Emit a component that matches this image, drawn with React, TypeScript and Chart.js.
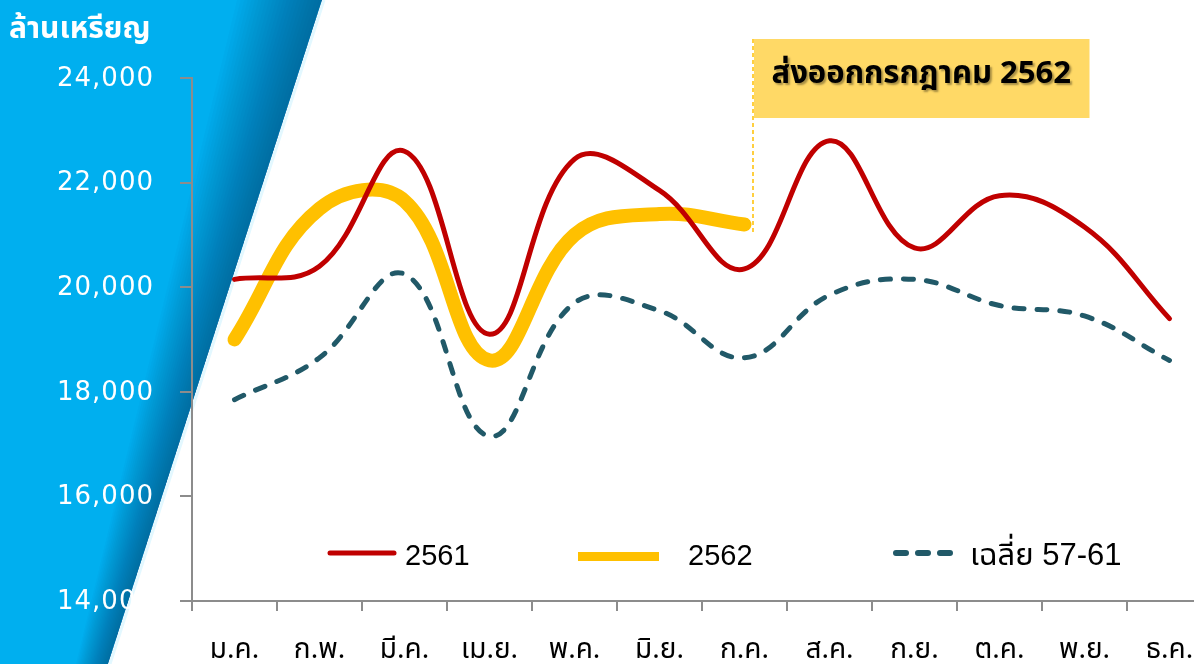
import React, { useEffect, useRef } from "react";
import { Chart, registerables } from "chart.js";

Chart.register(...registerables);

const months = ["ม.ค.", "ก.พ.", "มี.ค.", "เม.ย.", "พ.ค.", "มิ.ย.", "ก.ค.", "ส.ค.", "ก.ย.", "ต.ค.", "พ.ย.", "ธ.ค."];
const exports2561 = [20150, 20400, 22600, 19100, 22450, 21850, 20350, 22800, 20750, 21750, 21150, 19400];
const exports2562 = [19000, 21500, 21650, 18600, 21000, 21400, 21200];
const avg5761 = [17850, 18650, 20250, 17150, 19700, 19550, 18650, 19850, 20150, 19650, 19450, 18600];
const yTickValues = [14000, 16000, 18000, 20000, 22000, 24000];
const seriesNames = ["2561", "2562", "เฉลี่ย 57-61"];
const unitLabel = "ล้านเหรียญ";
const noteLabel = "ส่งออกกรกฎาคม 2562";

const RED = "#C00000";
const YELLOW = "#FFC000";
const TEAL = "#215968";
const AXIS = "#8C8C8C";
const THAI_FONT = 'Tahoma, "Noto Sans Thai", "Noto Sans", "DejaVu Sans", sans-serif';

const decorPlugin = {
  id: "decor",
  beforeDraw(chart: any) {
    const ctx = chart.ctx as CanvasRenderingContext2D;
    const W = chart.width;
    const H = chart.height;
    ctx.save();
    ctx.fillStyle = "#ffffff";
    ctx.fillRect(0, 0, W, H);
    // blue diagonal panel
    const ax = 322, bx = 108;
    ctx.beginPath();
    ctx.moveTo(0, 0);
    ctx.lineTo(ax, 0);
    ctx.lineTo(bx, H);
    ctx.lineTo(0, H);
    ctx.closePath();
    ctx.fillStyle = "#00AFEF";
    ctx.fill();
    // shadow band near the edge (wider at top, narrower at bottom)
    const N = 24;
    for (let i = 1; i <= N; i++) {
      const f = i / N;
      ctx.beginPath();
      ctx.moveTo(ax, 0);
      ctx.lineTo(ax - 85 * f, 0);
      ctx.lineTo(bx - 32 * f, H);
      ctx.lineTo(bx, H);
      ctx.closePath();
      ctx.fillStyle = "rgba(0,45,85,0.022)";
      ctx.fill();
    }
    // light fringe
    ctx.beginPath();
    ctx.moveTo(ax + 2, 0);
    ctx.lineTo(bx + 2, H);
    ctx.strokeStyle = "rgba(215,245,255,0.7)";
    ctx.lineWidth = 3;
    ctx.stroke();

    // unit title
    ctx.fillStyle = "#ffffff";
    ctx.font = `bold 30px ${THAI_FONT}`;
    ctx.textAlign = "left";
    ctx.textBaseline = "alphabetic";
    ctx.fillText(unitLabel, 9, 38);

    // y tick labels
    const y = chart.scales.y;
    ctx.font = '26px "DejaVu Sans", sans-serif';
    (ctx as any).letterSpacing = "1px";
    ctx.textAlign = "right";
    ctx.textBaseline = "middle";
    yTickValues.forEach((v) => {
      const label = v.toLocaleString("en-US");
      ctx.fillText(label, 154, y.getPixelForValue(v) + 1);
    });
    (ctx as any).letterSpacing = "0px";
    ctx.restore();
  },
  afterDraw(chart: any) {
    const ctx = chart.ctx as CanvasRenderingContext2D;
    const x = chart.scales.x;
    ctx.save();
    // annotation
    const lineX = x.getPixelForValue(6) + 8.5;
    const top = 39;
    const boxRight = x.getPixelForValue(10) + 5;
    ctx.fillStyle = "#FFD966";
    ctx.fillRect(lineX + 1, top, boxRight - lineX - 1, 79);
    ctx.strokeStyle = YELLOW;
    ctx.lineWidth = 1.5;
    ctx.setLineDash([4, 3]);
    ctx.beginPath();
    ctx.moveTo(lineX, top);
    ctx.lineTo(lineX, 235);
    ctx.stroke();
    ctx.setLineDash([]);
    ctx.font = `bold 31px ${THAI_FONT}`;
    ctx.textAlign = "center";
    ctx.textBaseline = "middle";
    ctx.shadowColor = "rgba(0,0,0,0.35)";
    ctx.shadowOffsetX = 2;
    ctx.shadowOffsetY = 2;
    ctx.shadowBlur = 2;
    ctx.fillStyle = "#000000";
    ctx.fillText(noteLabel, (lineX + boxRight) / 2, 77);
    ctx.shadowColor = "transparent";

    // legend
    const ly = 553;
    ctx.lineCap = "round";
    ctx.strokeStyle = RED;
    ctx.lineWidth = 5;
    ctx.beginPath();
    ctx.moveTo(330, ly);
    ctx.lineTo(394, ly);
    ctx.stroke();

    ctx.fillStyle = YELLOW;
    ctx.fillRect(578, ly - 1, 81, 9);

    ctx.strokeStyle = TEAL;
    ctx.lineWidth = 6;
    ctx.setLineDash([10, 12]);
    ctx.beginPath();
    ctx.moveTo(896, ly);
    ctx.lineTo(960, ly);
    ctx.stroke();
    ctx.setLineDash([]);

    ctx.fillStyle = "#000000";
    ctx.textAlign = "left";
    ctx.textBaseline = "alphabetic";
    ctx.font = '29px "Liberation Sans", Arial, sans-serif';
    ctx.fillText(seriesNames[0], 405, 565);
    ctx.fillText(seriesNames[1], 688, 565);
    ctx.font = `31px "Liberation Sans", ${THAI_FONT}`;
    ctx.fillText(seriesNames[2], 970, 565);
    ctx.restore();
  },
};

export default function App() {
  const ref = useRef<HTMLCanvasElement | null>(null);
  useEffect(() => {
    if (!ref.current) return;
    const chart = new Chart(ref.current, {
      type: "line",
      data: {
        labels: months,
        datasets: [
          {
            label: seriesNames[0],
            data: exports2561,
            borderColor: RED,
            borderWidth: 5,
            tension: 0.4,
            pointRadius: 0,
            borderCapStyle: "round",
            borderJoinStyle: "round",
            fill: false,
          },
          {
            label: seriesNames[1],
            data: exports2562,
            borderColor: YELLOW,
            borderWidth: 14,
            tension: 0.4,
            pointRadius: 0,
            borderCapStyle: "round",
            borderJoinStyle: "round",
            fill: false,
          },
          {
            label: seriesNames[2],
            data: avg5761,
            borderColor: TEAL,
            borderWidth: 5,
            borderDash: [10, 13],
            tension: 0.4,
            pointRadius: 0,
            borderCapStyle: "round",
            borderJoinStyle: "round",
            fill: false,
          },
        ],
      },
      options: {
        responsive: false,
        maintainAspectRatio: false,
        animation: false,
        devicePixelRatio: 1,
        layout: { padding: { top: 78, left: 0, right: 0, bottom: 0 } },
        plugins: {
          legend: { display: false },
          tooltip: { enabled: false },
          title: { display: false },
        },
        scales: {
          x: {
            type: "category",
            offset: true,
            grid: {
              offset: true,
              drawOnChartArea: false,
              drawTicks: true,
              tickLength: 10,
              color: AXIS,
              lineWidth: 2,
            },
            border: { display: true, color: AXIS, width: 2 },
            ticks: {
              color: "#000000",
              font: { family: THAI_FONT, size: 28 },
              padding: 25,
              maxRotation: 0,
              autoSkip: false,
            },
            afterFit: (s: any) => {
              s.height = 63;
              s.paddingLeft = 0;
              s.paddingRight = 0;
            },
          },
          y: {
            min: 14000,
            max: 24000,
            grid: {
              drawOnChartArea: false,
              drawTicks: true,
              tickLength: 12,
              color: AXIS,
              lineWidth: 2,
            },
            border: { display: true, color: AXIS, width: 2 },
            ticks: {
              stepSize: 2000,
              color: "rgba(0,0,0,0)",
              font: { size: 24 },
            },
            afterFit: (s: any) => {
              s.width = 192;
            },
          },
        },
      },
      plugins: [decorPlugin],
    });
    return () => chart.destroy();
  }, []);
  return (
    <div style={{ position: "fixed", left: 0, top: 0, width: 1194, height: 664, overflow: "hidden", background: "#fff" }}>
      <canvas ref={ref} width={1212} height={664} style={{ display: "block", width: 1212, height: 664 }} />
    </div>
  );
}
